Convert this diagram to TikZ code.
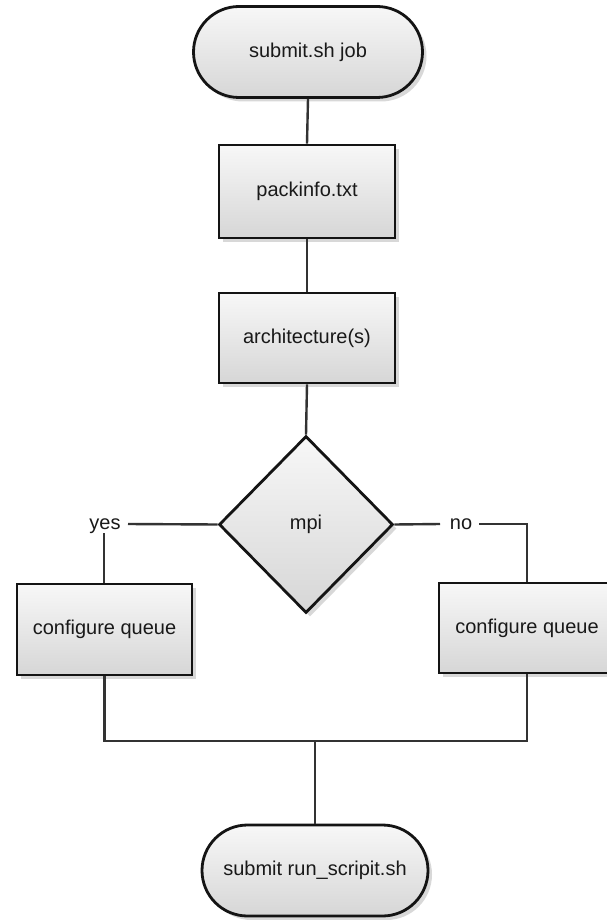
\documentclass[tikz,border=0pt]{standalone}
\usepackage{fontspec}
\setmainfont{Liberation Sans}
\usetikzlibrary{shapes.misc,shapes.geometric,shadows}
\begin{document}
\begin{tikzpicture}[x=1pt,y=-1pt,
  shp/.style={draw=black!92, line width=2.8pt, top color=gray!6, bottom color=gray!32,
    inner sep=0pt, text=black!90, font=\fontsize{20}{23}\selectfont,
    drop shadow={shadow xshift=4pt, shadow yshift=-4pt, opacity=.3, fill=gray}},
  term/.style={shp, rounded rectangle, minimum height=91pt},
  procbox/.style={shp, rectangle, minimum width=176pt},
  decis/.style={shp, diamond, minimum width=174pt, minimum height=177pt},
  lbl/.style={inner sep=0pt, text=black!90, font=\fontsize{20}{23}\selectfont},
  conn/.style={draw=black!80, line width=2.4pt}]
\useasboundingbox (0,0) rectangle (607,920);
\clip (0,0) rectangle (607,920);
\fill[white] (0,0) rectangle (607,920);

\node[term, minimum width=229pt] (start) at (308,52) {submit.sh job};
\node[procbox, minimum height=93pt] (pack) at (307,191.5) {packinfo.txt};
\node[procbox, minimum height=90pt] (arch) at (307,338) {architecture(s)};
\node[decis] (mpi) at (306,524.5) {mpi};
\node[procbox, minimum width=175pt, minimum height=91pt] (cqa) at (104.5,629.5) {configure queue};
\node[procbox, minimum height=90pt] (cqb) at (527,628) {configure queue};
\node[term, minimum width=226pt] (fin) at (315,870.5) {submit run\_scripit.sh};

\node[lbl, anchor=base] (yes) at (105,529) {yes};
\node[lbl, anchor=base] (no) at (461,529) {no};
\coordinate (yesl) at (128,524);
\coordinate (yesd) at (104,533);
\coordinate (nol) at (440,524);
\coordinate (nor) at (479,524);
\coordinate (join) at (315,741);

\draw[conn] (start.south) -- (pack.north);
\draw[conn] (pack.south) -- (arch.north);
\draw[conn] (arch.south) -- (mpi.north);
\draw[conn] (mpi.west) -- (yesl);
\draw[conn] (yesd) -- (cqa.north -| yesd);
\draw[conn] (mpi.east) -- (nol);
\draw[conn] (nor) -| (cqb.north);
\draw[conn] (cqa.south) |- (join);
\draw[conn] (cqb.south) |- (join);
\draw[conn] (join) -- (fin.north);
\end{tikzpicture}
\end{document}
